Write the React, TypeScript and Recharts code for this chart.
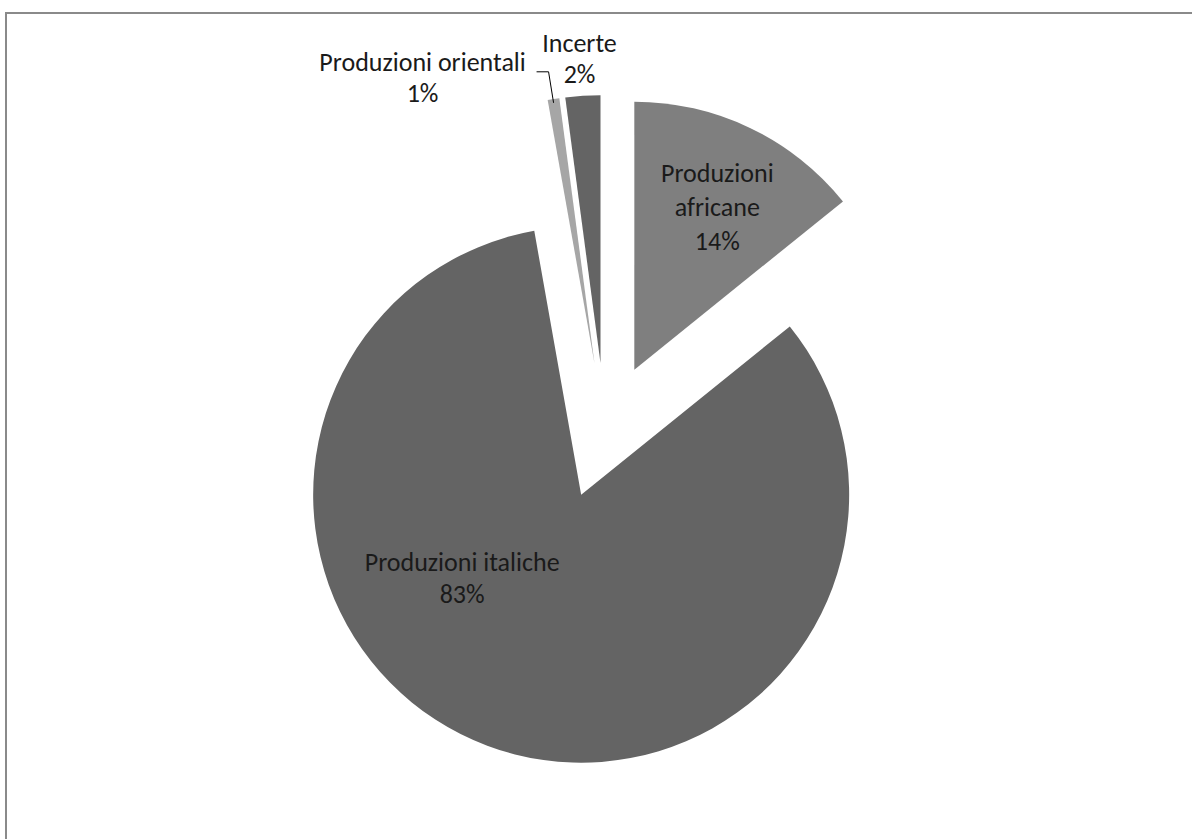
import React from 'react';
import { PieChart, Pie, Cell } from 'recharts';

const categories = ['Produzioni africane', 'Produzioni italiche', 'Produzioni orientali', 'Incerte'];
const values = [14.2, 83.0, 0.7, 2.1];
const labelLines = [['Produzioni', 'africane'], ['Produzioni italiche'], ['Produzioni orientali'], ['Incerte']];

const COLORS = ['#7f7f7f', '#646464', '#a6a6a6', '#646464'];
const CX = 600;
const CY = 426;
const R = 268;
const EXPLODE = 68;
const LH = 32;
const FONT = 'Carlito, Lato, sans-serif';
const FONT_SIZE = 26;

type Layout = { dx: number; dy: number; lh: number; leader?: number[][] };
const LABEL_LAYOUT: Layout[] = [
  { dx: 83, dy: -163, lh: 34 },
  { dx: -119, dy: 83, lh: 32 },
  { dx: -172, dy: -286, lh: 31, leader: [[-58, -292], [-46, -292], [-41, -261]] },
  { dx: -21, dy: -305, lh: 31 },
];

const data = categories.map((name, i) => ({ name, value: values[i] }));
const total = values.reduce((a, b) => a + b, 0);

function explodeOffset(i: number) {
  const before = values.slice(0, i).reduce((a, b) => a + b, 0);
  const mid = ((before + values[i] / 2) / total) * 2 * Math.PI;
  return { ox: EXPLODE * Math.sin(mid), oy: -EXPLODE * Math.cos(mid) };
}

function makeLabel(own: number) {
  return (props: any) => {
    if (props.index !== own) return null;
    const L = LABEL_LAYOUT[own];
    const bx = props.cx + L.dx;
    const by = props.cy + L.dy;
    const pct = `${Math.round((values[own] / total) * 100)}%`;
    const lines = [...labelLines[own], pct];
    const y0 = by - ((lines.length - 1) * L.lh) / 2;
    return (
      <g>
        {L.leader && (
          <polyline
            points={L.leader.map(([x, y]) => `${props.cx + x},${props.cy + y}`).join(' ')}
            fill="none"
            stroke="#000"
            strokeWidth={1}
          />
        )}
        {lines.map((t, k) => (
          <text
            key={k}
            x={bx}
            y={y0 + k * L.lh}
            textAnchor="middle"
            dominantBaseline="central"
            fill="#1a1a1a"
            fontFamily={FONT}
            fontSize={FONT_SIZE}
          >
            {t}
          </text>
        ))}
      </g>
    );
  };
}

export default function App() {
  return (
    <div style={{ position: 'absolute', left: 0, top: 0, width: 1192, height: 839, background: '#fff', overflow: 'hidden' }}>
      <div
        style={{
          position: 'absolute',
          left: 5,
          top: 12,
          width: 1400,
          height: 1000,
          borderLeft: '2px solid #8a8a8a',
          borderTop: '2px solid #8a8a8a',
        }}
      />
      <div style={{ position: 'absolute', left: 0, top: 0 }}>
        <PieChart width={1192} height={839}>
          {values.map((_, i) => {
            const { ox, oy } = explodeOffset(i);
            return (
              <Pie
                key={i}
                data={data}
                dataKey="value"
                nameKey="name"
                cx={CX + ox}
                cy={CY + oy}
                outerRadius={R}
                innerRadius={0}
                startAngle={90}
                endAngle={-270}
                stroke="none"
                isAnimationActive={false}
                labelLine={false}
                label={makeLabel(i)}
              >
                {data.map((d, j) => (
                  <Cell key={j} fill={j === i ? COLORS[i] : 'none'} stroke="none" />
                ))}
              </Pie>
            );
          })}
        </PieChart>
      </div>
    </div>
  );
}
